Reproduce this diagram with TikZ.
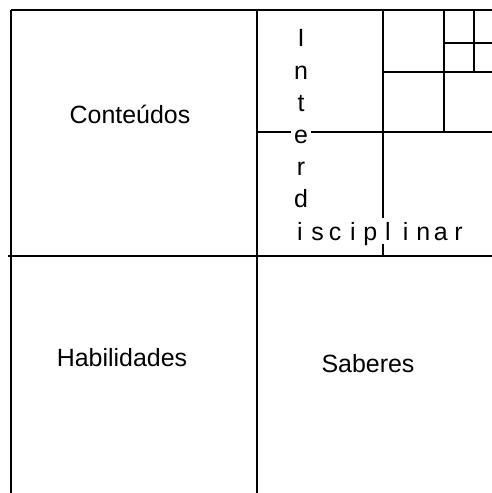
\documentclass[tikz,border=0pt]{standalone}
\usepackage{fontspec}
\setmainfont{Liberation Sans}
\usetikzlibrary{positioning}

\begin{document}
\begin{tikzpicture}[x=0.02cm,y=-0.02cm,
  grid line/.style={black,line width=0.9pt},
  label text/.style={font=\fontsize{14.2}{16}\selectfont,text=black},
  letter/.style={font=\fontsize{14.2}{16}\selectfont,text=black,fill=white,inner sep=2pt,
    minimum width=0.352cm,text height=10.4pt,text depth=0pt,anchor=base}]
\useasboundingbox (0,0) rectangle (492,493);
% main square
\draw[grid line] (11,10) -- (492,10);
\draw[grid line] (11,10) -- (11,493);
\draw[grid line] (257,10) -- (257,493);
\draw[grid line] (8,256) -- (492,256);
% top right quarters
\draw[grid line] (257,132) -- (492,132);
\draw[grid line] (383,10) -- (383,256);
\draw[grid line] (383,72) -- (492,72);
\draw[grid line] (444,10) -- (444,132);
\draw[grid line] (444,43) -- (492,43);
\draw[grid line] (474,10) -- (474,72);

\node[label text] (conteudos) at (130,114) {Conteúdos};
\node[label text] (habilidades) at (122,358) {Habilidades};
\node[label text] (saberes) at (368,364) {Saberes};

% Interdisciplinar
\foreach \ch [count=\i from 0] in {I,n,t,e,r,d}
  \node[letter] (v\i) at (301,47+32.2*\i) {\ch};
\foreach \ch [count=\i from 0] in {i,s,c,i,p,l,i,n,a,r}
  \node[letter] (h\i) at (300+17.6*\i,240) {\ch};
\end{tikzpicture}
\end{document}
